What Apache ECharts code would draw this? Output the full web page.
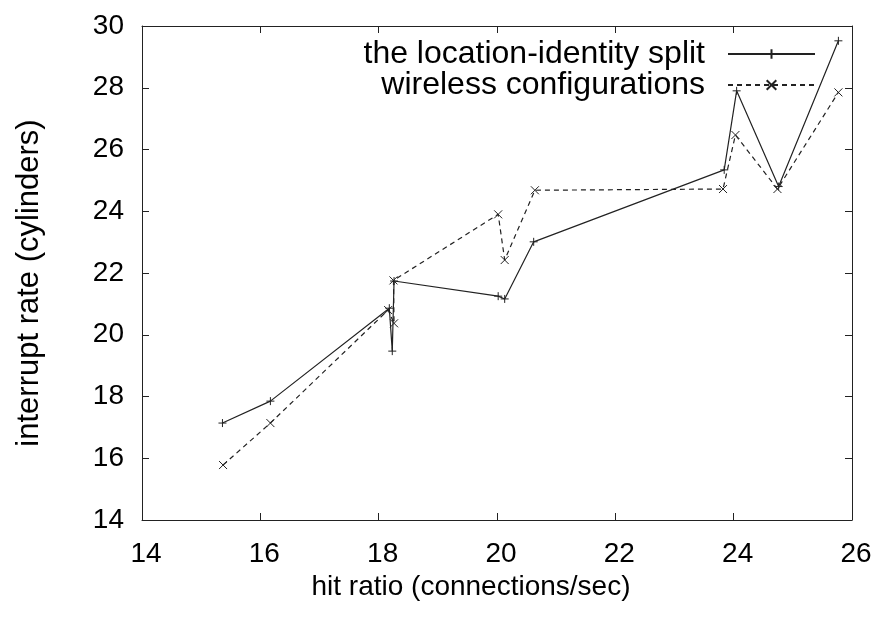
<!DOCTYPE html>
<html>
<head>
<meta charset="utf-8">
<script src="https://cdn.jsdelivr.net/npm/echarts@6/dist/echarts.min.js"></script>
<style>html,body{margin:0;padding:0;background:#fff}#c{width:876px;height:618px}</style>
</head>
<body>
<div id="c"></div>
<script>
const seriesNames = ['the location-identity split', 'wireless configurations'];
const hitRatioA = [15.36, 16.17, 18.18, 18.23, 18.26, 20.02, 20.13, 20.62, 23.84, 24.05, 24.76, 25.77];
const rateA     = [17.14, 17.85, 20.86, 19.47, 21.74, 21.25, 21.16, 23.01, 25.34, 27.90, 24.80, 29.52];
const hitRatioB = [15.37, 16.17, 18.16, 18.26, 18.25, 20.02, 20.13, 20.64, 23.82, 24.03, 24.74, 25.77];
const rateB     = [15.78, 17.14, 20.80, 20.37, 21.76, 23.90, 22.42, 24.68, 24.72, 26.47, 24.72, 27.85];
const xTicks = [14, 16, 18, 20, 22, 24, 26];
const yTicks = [14, 16, 18, 20, 22, 24, 26, 28, 30];

const FONT = '"Liberation Sans", Arial, Helvetica, sans-serif';
const INK = '#222';
const PLUS = 'path://M0,5L10,5M5,0L5,10';
const CROSS = 'path://M0,0L10,10M0,10L10,0';

const pairs = (xs, ys) => xs.map((x, i) => [x, ys[i]]);

const chart = echarts.init(document.getElementById('c'), null, {renderer: 'canvas'});
const axisCommon = {
  min: 14, interval: 2,
  axisLine: {show: true, onZero: false, lineStyle: {color: INK, width: 1}},
  axisTick: {show: true, inside: true, length: 7, lineStyle: {color: INK, width: 1}},
  splitLine: {show: false}
};
chart.setOption({
  animation: false,
  backgroundColor: '#fff',
  grid: {left: 142, right: 24, top: 26, bottom: 98, containLabel: false},
  legend: {
    data: seriesNames,
    orient: 'vertical',
    align: 'right',
    right: 55,
    top: 33,
    itemWidth: 87,
    itemHeight: 12,
    itemGap: -1,
    textStyle: {fontFamily: FONT, fontSize: 32, color: '#000', padding: [0, 18, 0, 0]},
    inactiveColor: '#ccc'
  },
  xAxis: [
    Object.assign({}, axisCommon, {
      type: 'value', max: 26, position: 'bottom',
      name: 'hit ratio (connections/sec)', nameLocation: 'middle', nameGap: 48,
      nameTextStyle: {fontFamily: FONT, fontSize: 28, color: '#000', padding: [0, 52, 0, 0]},
      axisLabel: {fontFamily: FONT, fontSize: 28, color: '#000', margin: 20, padding: [0, 0, 0, 8],
        formatter: v => xTicks.includes(v) ? String(v) : ''}
    }),
    Object.assign({}, axisCommon, {
      type: 'value', max: 26, position: 'top', axisLabel: {show: false}
    })
  ],
  yAxis: [
    Object.assign({}, axisCommon, {
      type: 'value', max: 30, position: 'left',
      name: 'interrupt rate (cylinders)', nameLocation: 'middle', nameGap: 97,
      nameTextStyle: {fontFamily: FONT, fontSize: 31, color: '#000', padding: [0, 20, 0, 0]},
      axisLabel: {fontFamily: FONT, fontSize: 28, color: '#000', margin: 18,
        formatter: v => yTicks.includes(v) ? String(v) : ''}
    }),
    Object.assign({}, axisCommon, {
      type: 'value', max: 30, position: 'right', axisLabel: {show: false}
    })
  ],
  series: [
    {
      name: seriesNames[0], type: 'line', xAxisIndex: 0, yAxisIndex: 0,
      data: pairs(hitRatioA, rateA),
      symbol: PLUS, symbolSize: 8, showAllSymbol: true,
      lineStyle: {color: INK, width: 1.2, type: 'solid'},
      itemStyle: {color: INK, borderColor: INK, borderWidth: 1},
      emphasis: {disabled: true}
    },
    {
      name: seriesNames[1], type: 'line', xAxisIndex: 0, yAxisIndex: 0,
      data: pairs(hitRatioB, rateB),
      symbol: CROSS, symbolSize: 8, showAllSymbol: true,
      lineStyle: {color: INK, width: 1.2, type: [5, 4]},
      itemStyle: {color: INK, borderColor: INK, borderWidth: 1},
      emphasis: {disabled: true}
    }
  ]
});
</script>
</body>
</html>
